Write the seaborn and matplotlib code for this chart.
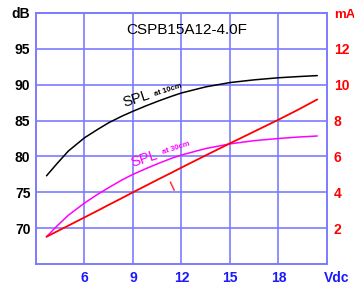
import matplotlib
matplotlib.use("Agg")
import matplotlib.pyplot as plt
import seaborn as sns

sns.set_style("white")
plt.rcParams['font.family'] = ['Liberation Sans', 'DejaVu Sans']

# Data
volt = [3.65, 4.3, 5.0, 6, 6.8, 7.5, 8.3, 9, 9.8, 10.6, 11.4, 12, 13.5, 15, 16.5, 18, 19.2, 20.4]
spl_10cm = [77.3, 79.0, 80.75, 82.6, 83.75, 84.7, 85.6, 86.3, 87.05, 87.75, 88.4, 88.85,
            89.7, 90.3, 90.68, 90.97, 91.13, 91.27]
spl_30cm = [68.8, 70.3, 71.8, 73.5, 74.7, 75.65, 76.7, 77.5, 78.3, 79.05, 79.75, 80.2,
            81.1, 81.75, 82.2, 82.5, 82.7, 82.85]
current_ma = [1.52, 1.82, 2.14, 2.6, 2.97, 3.3, 3.67, 4.0, 4.37, 4.74, 5.1, 5.38,
              6.06, 6.73, 7.39, 8.05, 8.6, 9.18]

x_ticks = [6, 9, 12, 15, 18]
x_labels = ['6', '9', '12', '15', '18']
x_unit = 'Vdc'
db_ticks = [70, 75, 80, 85, 90, 95, 100]
db_labels = ['70', '75', '80', '85', '90', '95', 'dB']
ma_ticks = [2, 4, 6, 8, 10, 12, 14]
ma_labels = ['2', '4', '6', '8', '10', '12', 'mA']
title = 'CSPB15A12-4.0F'

grid_c = '#7b7bff'
blue_txt = '#1a1aff'

fig = plt.figure(figsize=(3.54, 2.86), dpi=100)
ax = fig.add_axes([36/354, 22/286, 291/354, 251/286])
ax2 = ax.twinx()

sns.lineplot(x=volt, y=spl_10cm, ax=ax, color='black', linewidth=1.1)
sns.lineplot(x=volt, y=spl_30cm, ax=ax, color='#ff00ff', linewidth=1.1)
sns.lineplot(x=volt, y=current_ma, ax=ax2, color='#ff0000', linewidth=1.3)

ax.set_xlim(3, 21)
ax.set_ylim(65, 100)
ax2.set_ylim(0, 14)

ax.set_xticks(x_ticks)
ax.set_xticklabels(x_labels, color=blue_txt, fontsize=10, fontweight='bold')
ax.set_yticks(db_ticks)
ax.set_yticklabels(db_labels, color='black', fontsize=10, fontweight='bold')
ax2.set_yticks(ma_ticks)
ax2.set_yticklabels(ma_labels, color='#ff0000', fontsize=10, fontweight='bold')
ax2.get_yticklabels()[-1].set_fontsize(9.5)

ax.annotate(x_unit, xy=(21.6, 0), xycoords=('data', 'axes fraction'),
            xytext=(0, -5), textcoords='offset points', ha='center', va='top',
            color=blue_txt, fontsize=10, fontweight='bold', annotation_clip=False)

ax.tick_params(axis='both', length=0)
ax.tick_params(axis='y', pad=4)
ax.tick_params(axis='x', pad=5)
ax2.tick_params(axis='y', length=0, pad=5)

ax.grid(True, color=grid_c, linewidth=1.2)
for a in (ax, ax2):
    for s in a.spines.values():
        s.set_color(grid_c)
        s.set_linewidth(1.2)
ax.set_xlabel('')
ax.set_ylabel('')
ax2.set_ylabel('')

ax.text(12.34, 97.6, title, ha='center', va='center', fontsize=11, color='black')
ax.text(9.18, 88.0, 'SPL', ha='center', va='center', fontsize=10.5, color='black', rotation=18)
ax.text(11.15, 89.3, 'at 10cm', ha='center', va='center', fontsize=5.5, color='black',
        fontweight='bold', rotation=18)
ax.text(9.68, 79.65, 'SPL', ha='center', va='center', fontsize=10.5, color='#ff00ff', rotation=18)
ax.text(11.65, 81.1, 'at 30cm', ha='center', va='center', fontsize=5.5, color='#ff00ff',
        fontweight='bold', rotation=18)
ax.text(11.47, 75.8, 'I', ha='center', va='center', fontsize=10, color='#ff0000', rotation=25)

fig.savefig('out.png', dpi=100)
